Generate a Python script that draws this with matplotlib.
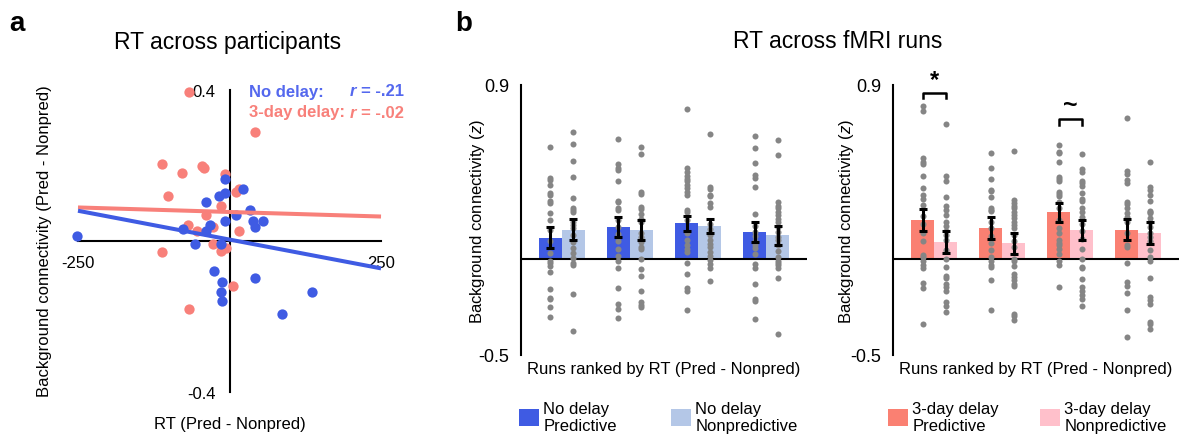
import matplotlib
matplotlib.use('Agg')
import matplotlib.pyplot as plt
from matplotlib.patches import Patch
import numpy as np

plt.rcParams['font.family'] = ['Liberation Sans', 'DejaVu Sans']
plt.rcParams['mathtext.fontset'] = 'custom'
plt.rcParams['mathtext.it'] = 'Liberation Sans:italic'
plt.rcParams['mathtext.rm'] = 'Liberation Sans'

W, H = 1182, 439

BLUE = '#3f5be3'
LIGHTBLUE = '#b4c7e7'
RED = '#f8807a'
PINK = '#ffc0cb'
GREY = '#858585'

# ---- panel a data: RT difference vs background connectivity difference
nodelay_rt = [-251, -8, 23, -18, -8, -39, 34, 10, -8, 38, 55, 42, -32, -39, -77,
              -57, -14, -25, -12, -14, -12, 42, 136, 87]
nodelay_bc = [0.013, 0.163, 0.137, 0.119, 0.125, 0.103, 0.082, 0.069, 0.052, 0.053,
              0.052, 0.035, 0.042, 0.025, 0.031, -0.008, -0.010, -0.081, -0.110,
              -0.137, -0.159, -0.099, -0.137, -0.193]
delay_rt = [-67, 42, -112, -78, -46, -42, -8, -101, 10, 16, -14, -39, -69, -53,
            -27, 16, -112, -27, -14, -6, 6, -67]
delay_bc = [0.393, 0.287, 0.203, 0.179, 0.197, 0.192, 0.176, 0.119, 0.130, 0.137,
            0.093, 0.069, 0.042, 0.026, 0.035, 0.025, -0.031, -0.009, -0.026,
            -0.020, -0.121, -0.181]
# fitted lines: intercept, slope
nodelay_fit = [0.003, -0.000305]
delay_fit = [0.076, -0.000048]
fit_range = [-250, 250]

# ---- panel b data: four RT-ranked runs
nd_pred_runs = [
    [0.58, 0.42, 0.41, 0.38, 0.34, 0.33, 0.30, 0.29, 0.235, 0.20, 0.15, 0.09, 0.03,
     -0.01, -0.025, -0.04, -0.07, -0.16, -0.205, -0.21, -0.25, -0.305],
    [0.62, 0.49, 0.47, 0.46, 0.40, 0.30, 0.295, 0.26, 0.25, 0.20, 0.165, 0.125, 0.09,
     0.05, 0.015, -0.01, -0.05, -0.155, -0.235, -0.26, -0.31],
    [0.775, 0.47, 0.45, 0.43, 0.415, 0.40, 0.38, 0.365, 0.345, 0.33, 0.25, 0.24, 0.20,
     0.13, 0.095, 0.07, 0.05, 0.035, -0.025, -0.08, -0.155, -0.17, -0.265],
    [0.638, 0.573, 0.497, 0.433, 0.42, 0.373, 0.232, 0.17, 0.14, 0.115, 0.09, 0.07,
     0.055, 0.025, -0.03, -0.05, -0.13, -0.21, -0.22, -0.315],
]
nd_nonpred_runs = [
    [0.655, 0.593, 0.508, 0.425, 0.313, 0.261, 0.252, 0.240, 0.192, 0.175, 0.157,
     0.123, 0.088, 0.054, 0.031, 0.002, -0.021, -0.033, -0.183, -0.378],
    [0.577, 0.541, 0.346, 0.337, 0.268, 0.259, 0.233, 0.207, 0.190, 0.130, 0.112,
     0.086, 0.061, 0.052, 0.0, -0.055, -0.092, -0.168, -0.225, -0.242, -0.251],
    [0.645, 0.37, 0.36, 0.33, 0.325, 0.29, 0.265, 0.18, 0.155, 0.13, 0.12, 0.095,
     0.075, 0.06, 0.035, 0.015, -0.005, -0.03, -0.05, -0.115],
    [0.615, 0.537, 0.295, 0.275, 0.26, 0.24, 0.225, 0.205, 0.19, 0.165, 0.14, 0.11,
     0.095, 0.07, 0.04, 0.01, -0.01, -0.025, -0.035, -0.05, -0.1, -0.39],
]
dd_pred_runs = [
    [0.79, 0.765, 0.52, 0.50, 0.49, 0.43, 0.365, 0.33, 0.31, 0.28, 0.22, 0.18, 0.13,
     0.09, 0.02, 0.01, -0.015, -0.035, -0.05, -0.125, -0.15, -0.34],
    [0.545, 0.47, 0.415, 0.355, 0.35, 0.32, 0.26, 0.25, 0.245, 0.19, 0.16, 0.115,
     0.08, 0.045, 0.01, -0.015, -0.035, -0.045, -0.11, -0.265],
    [0.59, 0.555, 0.545, 0.50, 0.425, 0.415, 0.40, 0.345, 0.335, 0.325, 0.295, 0.26,
     0.20, 0.16, 0.13, 0.095, 0.08, 0.07, 0.05, 0.025, -0.01, -0.035, -0.145],
    [0.73, 0.455, 0.44, 0.405, 0.39, 0.295, 0.285, 0.26, 0.235, 0.215, 0.19, 0.13,
     0.07, 0.06, -0.025, -0.12, -0.14, -0.18, -0.265, -0.405],
]
dd_nonpred_runs = [
    [0.70, 0.43, 0.40, 0.32, 0.27, 0.25, 0.225, 0.19, 0.17, 0.145, 0.12, 0.095, 0.045,
     0.0, -0.045, -0.09, -0.10, -0.13, -0.145, -0.17, -0.225, -0.245, -0.275],
    [0.56, 0.305, 0.29, 0.275, 0.26, 0.24, 0.225, 0.21, 0.19, 0.175, 0.16, 0.12, 0.09,
     0.06, 0.0, -0.01, -0.04, -0.08, -0.095, -0.11, -0.13, -0.14, -0.285, -0.30, -0.32],
    [0.54, 0.465, 0.45, 0.40, 0.39, 0.375, 0.34, 0.31, 0.30, 0.26, 0.24, 0.215, 0.18,
     0.145, 0.10, 0.05, 0.0, -0.045, -0.05, -0.105, -0.145, -0.17, -0.19, -0.21, -0.245],
    [0.50, 0.37, 0.355, 0.33, 0.30, 0.245, 0.24, 0.235, 0.21, 0.19, 0.165, 0.13, 0.11,
     0.09, 0.045, 0.01, -0.01, -0.1, -0.2, -0.215, -0.235, -0.33, -0.34, -0.365],
]
nd_pred_mean = [0.109, 0.164, 0.183, 0.137]
nd_pred_sem = [0.054, 0.052, 0.038, 0.051]
nd_nonpred_mean = [0.149, 0.149, 0.168, 0.121]
nd_nonpred_sem = [0.054, 0.053, 0.038, 0.050]
dd_pred_mean = [0.200, 0.157, 0.240, 0.150]
dd_pred_sem = [0.059, 0.056, 0.050, 0.056]
dd_nonpred_mean = [0.086, 0.080, 0.147, 0.133]
dd_nonpred_sem = [0.058, 0.055, 0.051, 0.057]

sig_runs = [0, 2]
sig_heights = [0.861, 0.722]
sig_marks = ['*', '~']

legend_labels = ['No delay\nPredictive', 'No delay\nNonpredictive',
                 '3-day delay\nPredictive', '3-day delay\nNonpredictive']


def fx(px):
    return px / W


def fy(py):
    return 1 - py / H


fig = plt.figure(figsize=(W / 100, H / 100), dpi=100)

# ---------------- panel a
axa = fig.add_axes([fx(70), 39 / H, 320 / W, 320 / H])
axa.set_xlim(-263.2, 264.8)
axa.set_ylim(-0.419, 0.428)
for s in ['top', 'right']:
    axa.spines[s].set_visible(False)
axa.spines['left'].set_position(('data', 0))
axa.spines['bottom'].set_position(('data', 0))
axa.spines['left'].set_bounds(-0.4, 0.4)
axa.spines['bottom'].set_bounds(-250, 250)
axa.spines['left'].set_linewidth(1.5)
axa.spines['bottom'].set_linewidth(1.5)
axa.set_xticks([-250, 250])
axa.set_xticklabels(['-250', '250'])
axa.set_yticks([-0.4, 0.4])
axa.set_yticklabels(['-0.4', '0.4'])
axa.tick_params(axis='x', length=0, pad=10, labelsize=12)
axa.tick_params(axis='y', length=0, pad=10, labelsize=12)

axa.scatter(delay_rt, delay_bc, s=55, color=RED, linewidths=0, zorder=3, clip_on=False)
axa.scatter(nodelay_rt, nodelay_bc, s=55, color=BLUE, linewidths=0, zorder=3.1, clip_on=False)
xs = np.array(fit_range)
axa.plot(xs, delay_fit[0] + delay_fit[1] * xs, color=RED, lw=2.9, zorder=3.2,
         solid_capstyle='butt')
axa.plot(xs, nodelay_fit[0] + nodelay_fit[1] * xs, color=BLUE, lw=2.9, zorder=3.3,
         solid_capstyle='butt')

fig.text(fx(249), fy(92), 'No delay:', color='#5468ee', fontsize=12,
         fontweight='bold', ha='left', va='center')
fig.text(fx(350), fy(92), 'r', color='#5468ee', fontsize=12, fontweight='bold',
         style='italic', ha='left', va='center')
fig.text(fx(361), fy(92), '= -.21', color='#5468ee', fontsize=12,
         fontweight='bold', ha='left', va='center')
fig.text(fx(249), fy(113), '3-day delay:', color=RED, fontsize=12,
         fontweight='bold', ha='left', va='center')
fig.text(fx(350), fy(113), 'r', color=RED, fontsize=12, fontweight='bold',
         style='italic', ha='left', va='center')
fig.text(fx(361), fy(113), '= -.02', color=RED, fontsize=12,
         fontweight='bold', ha='left', va='center')

fig.text(fx(228), fy(42), 'RT across participants', fontsize=16.5, ha='center', va='center')
fig.text(fx(230), fy(425), 'RT (Pred - Nonpred)', fontsize=12, ha='center', va='center')
fig.text(fx(45), fy(241), 'Background connectivity (Pred - Nonpred)', fontsize=12,
         rotation=90, ha='center', va='center')
fig.text(fx(9), fy(31), 'a', fontsize=20, fontweight='bold', ha='left', va='baseline')
fig.text(fx(455), fy(31), 'b', fontsize=20, fontweight='bold', ha='left', va='baseline')
fig.text(fx(838), fy(42), 'RT across fMRI runs', fontsize=16.5, ha='center', va='center')

# ---------------- panel b
w = 0.338
runs = np.arange(4)


def bar_panel(ax, pred, nonpred, pm, ps, nm, ns, c1, c2, lab_x):
    ax.set_xlim(-0.6, 3.6)
    ax.set_ylim(-0.5, 0.9)
    ax.bar(runs - w / 2, pm, w, color=c1, zorder=1)
    ax.bar(runs + w / 2, nm, w, color=c2, zorder=1)
    ax.axhline(0, color='black', lw=1.5, zorder=2)
    for i in runs:
        ax.scatter(np.full(len(pred[i]), i - w / 2), pred[i], s=19, color=GREY,
                   linewidths=0, zorder=3)
        ax.scatter(np.full(len(nonpred[i]), i + w / 2), nonpred[i], s=19, color=GREY,
                   linewidths=0, zorder=3)
    ax.errorbar(runs - w / 2, pm, yerr=ps, fmt='none', ecolor='black', elinewidth=2.2,
                capsize=3.2, capthick=2.2, zorder=4)
    ax.errorbar(runs + w / 2, nm, yerr=ns, fmt='none', ecolor='black', elinewidth=2.2,
                capsize=3.2, capthick=2.2, zorder=4)
    for s in ['top', 'right', 'bottom']:
        ax.spines[s].set_visible(False)
    ax.spines['left'].set_linewidth(1.5)
    ax.set_xticks([])
    ax.set_yticks([-0.5, 0.9])
    ax.set_yticklabels(['-0.5', '0.9'])
    ax.tick_params(axis='y', length=0, pad=8.5, labelsize=13)
    ax.set_xlabel('Runs ranked by RT (Pred - Nonpred)', fontsize=12, labelpad=4)
    ax.set_ylabel('Background connectivity ($z$)', fontsize=12)
    ax.yaxis.set_label_coords(lab_x, 0.5)


axl = fig.add_axes([fx(521), 83 / H, 286 / W, 270 / H])
bar_panel(axl, nd_pred_runs, nd_nonpred_runs, nd_pred_mean, nd_pred_sem,
          nd_nonpred_mean, nd_nonpred_sem, BLUE, LIGHTBLUE, -0.119)

axr = fig.add_axes([fx(893.3), 83 / H, 285.7 / W, 270 / H])
bar_panel(axr, dd_pred_runs, dd_nonpred_runs, dd_pred_mean, dd_pred_sem,
          dd_nonpred_mean, dd_nonpred_sem, '#fa8072', PINK, -0.131)

for r, h, m in zip(sig_runs, sig_heights, sig_marks):
    axr.plot([r - w / 2, r - w / 2, r + w / 2, r + w / 2], [h - 0.03, h, h, h - 0.03],
             color='black', lw=1.8, clip_on=False, zorder=5)
    axr.text(r, h + 0.01, m, fontsize=18 if m == '~' else 17, fontweight='bold',
             ha='center', va='bottom', clip_on=False)

# ---------------- legend
leg_x = [519, 671, 888, 1040]
leg_colors = [BLUE, LIGHTBLUE, '#fa8072', PINK]
for x, c, lab in zip(leg_x, leg_colors, legend_labels):
    leg = fig.legend(handles=[Patch(facecolor=c, edgecolor='none')], labels=[lab],
                     loc='center left', bbox_to_anchor=(fx(x), fy(418)), frameon=False,
                     fontsize=12, handlelength=1.2, handleheight=1.2, handletextpad=0.25,
                     borderpad=0, borderaxespad=0)
    for t in leg.get_texts():
        t.set_linespacing(1.2)

fig.savefig('out.png', dpi=100)
